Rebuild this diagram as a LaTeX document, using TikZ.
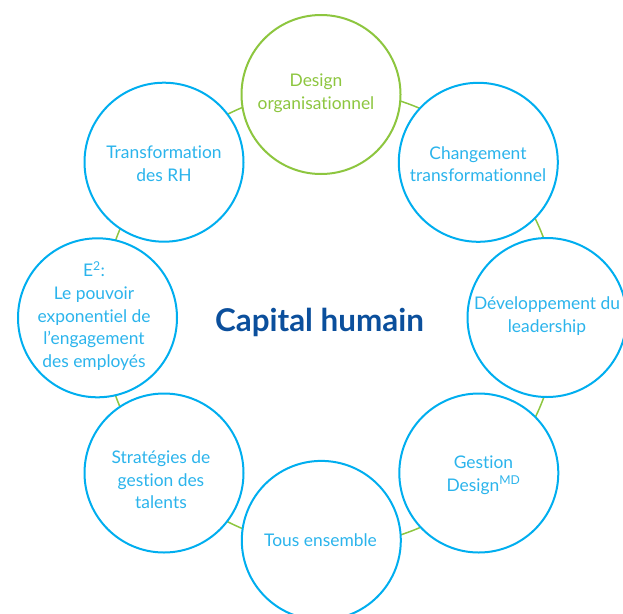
\documentclass[tikz,border=0pt]{standalone}
\usepackage{fontspec}
\setmainfont{Lato}[Ligatures=NoCommon]
\definecolor{ringblue}{HTML}{00AEEF}
\definecolor{textblue}{HTML}{2BB4EC}
\definecolor{ringgreen}{HTML}{8DC63F}
\definecolor{titleblue}{HTML}{0B4F9C}
\begin{document}
\begin{tikzpicture}[x=1pt,y=-1pt,
  bubble/.style={circle, draw=ringblue, line width=2pt, fill=white, minimum size=159pt, inner sep=0pt},
  greenbubble/.style={bubble, draw=ringgreen},
  bubbletext/.style={text=textblue, align=center, inner sep=0pt, font=\fontsize{17.4}{22.6}\selectfont},
  greentext/.style={bubbletext, text=ringgreen},
  ringline/.style={draw=ringgreen, line width=1.5pt}]
\useasboundingbox (0,0) rectangle (623,613);
\clip (0,0) rectangle (623,613);
\coordinate (ringc) at (330,318);
\draw[ringline] (ringc) circle (228pt);
\node[greenbubble] (c1) at (321,94.5) {};
\node[bubble] (c2) at (478.3,162.3) {};
\node[bubble] (c3) at (547,317.5) {};
\node[bubble] (c4) at (478.8,473) {};
\node[bubble] (c5) at (321.3,540.4) {};
\node[bubble] (c6) at (164,473) {};
\node[bubble] (c7) at (97.5,317.8) {};
\node[bubble] (c8) at (164,162.2) {};
\node[greentext] (t1) at (316,93) {Design\\organisationnel};
\node[bubbletext] (t2) at (478,164) {Changement\\transformationnel};
\node[bubbletext] (t3) at (547,316) {Développement du\\leadership};
\node[bubbletext] (t4) at (483.5,475) {Gestion\\Design\textsuperscript{MD}};
\node[bubbletext] (t5) at (320.5,540.5) {Tous ensemble};
\node[bubbletext] (t6) at (161,480) {Stratégies de\\gestion des\\talents};
\node[bubbletext] (t7) at (94,316) {E\textsuperscript{2}:\\Le pouvoir\\exponentiel de\\l’engagement\\des employés};
\node[bubbletext] (t8) at (164,164) {Transformation\\des RH};
\node[text=titleblue, inner sep=0pt, anchor=base, font=\fontsize{31.4}{36}\selectfont\bfseries] (title) at (319.5,331) {Capital humain};
\end{tikzpicture}
\end{document}
